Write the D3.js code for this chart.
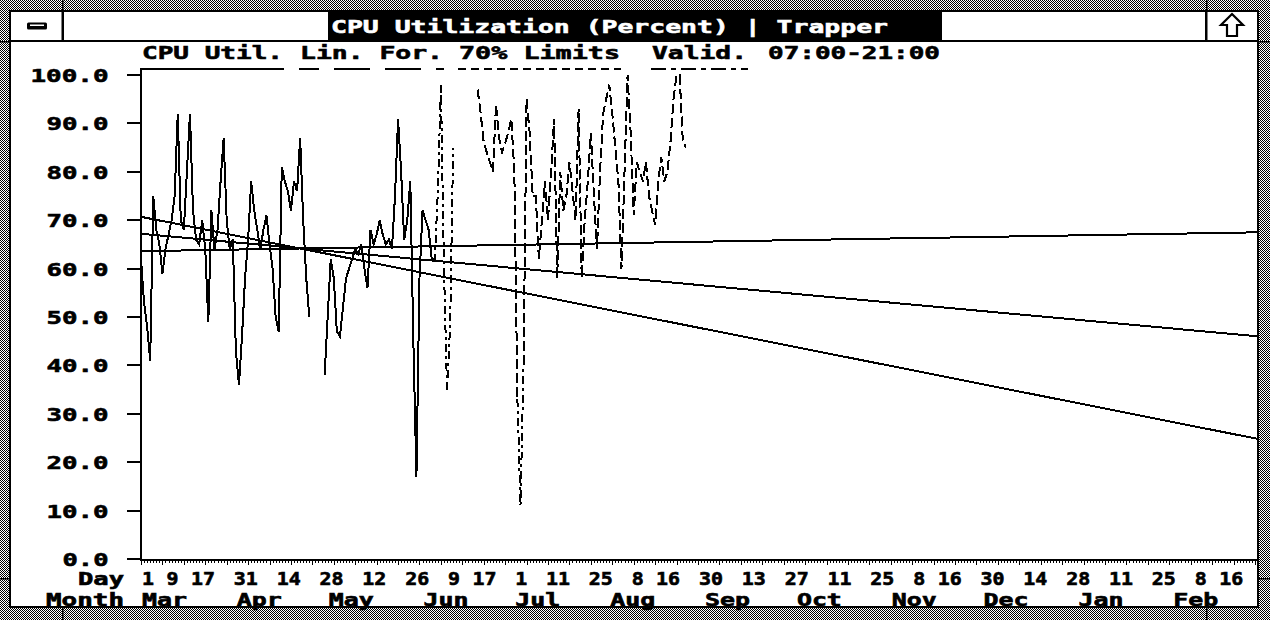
<!DOCTYPE html>
<html><head><meta charset="utf-8">
<script src="https://cdn.jsdelivr.net/npm/d3@7"></script>
<style>
html,body{margin:0;padding:0;background:#fff;overflow:hidden}
text{font-family:"DejaVu Sans Mono",monospace;font-weight:bold;stroke:#000;stroke-width:0.6px;}
text.w{stroke:#fff;fill:#fff}
</style></head>
<body><svg id="c" width="1270" height="620"></svg>
<script>
// ---------------- data ----------------
const titleText = "CPU Utilization (Percent) | Trapper";
const legendItems = ["CPU Util.", "Lin. For.", "70% Limits", "Valid."];
const legendExtra = "07:00-21:00";
const startDate = "1993-03-01";
const endDate = "1994-03-01";
// daily CPU utilisation (%) from Mar 1, null = no data
const utilValues = [
 62,53,48,41,75,68,65,59,64,67, 70,75,92,70,68,80,92,72,66,65,
 70,64,49,72,64,68,78,87,70,64, 66,43,36,46,58,66,78,72,68,64,
 68,71,65,60,50,47,81,78,76,72, 78,76,87,70,58,50,null,null,null,null,
 38,50,62,58,47,46,52,58,60,62, 64,63,65,60,56,68,65,67,70,67,
 65,66,64,75,91,80,66,70,78,45, 17,58,72,70,68,62,62,76,98,60,
 35,48,85,null,null,null,null,null,null,null, 97,92,86,84,82,80,94,87,84,86,
 88,91,80,33,11,40,95,88,75,75, 62,70,78,70,80,91,58,80,72,75,
 82,76,70,93,58,70,78,88,75,64, 80,92,95,98,92,85,78,60,80,100,
 88,71,82,80,78,82,75,72,69,78, 83,78,80,86,95,100,100,87,85
];
// data status, from day index onward: A = measured, V = validated, E = estimated
const statusRuns = [[0,"A"],[96,"V"],[110,"E"],[124,"V"],[125,"E"]];
// linear forecast and limits (start / end of axis)
const forecastDates = ["1993-03-01","1994-03-01"];
const trendValues = [63.6, 67.5];
const forecastValues = [67.2, 46.0];
const limitValues = [70.7, 24.8];
// axis tick labels
const yTicks = [0,10,20,30,40,50,60,70,80,90,100];
const dayLabelDates = ["1993-03-01","1993-03-09","1993-03-17","1993-03-31","1993-04-14","1993-04-28",
 "1993-05-12","1993-05-26","1993-06-09","1993-06-17","1993-07-01","1993-07-11","1993-07-25",
 "1993-08-08","1993-08-16","1993-08-30","1993-09-13","1993-09-27","1993-10-11","1993-10-25",
 "1993-11-08","1993-11-16","1993-11-30","1993-12-14","1993-12-28","1994-01-11","1994-01-25",
 "1994-02-08","1994-02-16"];
const monthLabels = ["Mar","Apr","May","Jun","Jul","Aug","Sep","Oct","Nov","Dec","Jan","Feb"];
const monthStarts = ["1993-03-01","1993-04-01","1993-05-01","1993-06-01","1993-07-01","1993-08-01",
 "1993-09-01","1993-10-01","1993-11-01","1993-12-01","1994-01-01","1994-02-01"];

// ---------------- drawing ----------------
const svg = d3.select("#c");
const parse = d3.timeParse("%Y-%m-%d");
const x = d3.scaleTime().domain([parse(startDate), parse(endDate)]).range([141, 1258]);
const y = d3.scaleLinear().domain([0,100]).range([559, 75]);

const defs = svg.append("defs");
const pat = defs.append("pattern").attr("id","chk").attr("width",2).attr("height",2).attr("patternUnits","userSpaceOnUse");
pat.append("rect").attr("width",2).attr("height",2).attr("fill","#fff");
pat.append("rect").attr("width",1).attr("height",1).attr("fill","#000");
pat.append("rect").attr("x",1).attr("y",1).attr("width",1).attr("height",1).attr("fill","#000");

// window frame
svg.append("rect").attr("width",1270).attr("height",620).attr("fill","url(#chk)");
svg.append("rect").attr("x",9).attr("y",10).attr("width",1250).attr("height",598).attr("fill","#000");
svg.append("rect").attr("x",11).attr("y",12).attr("width",1246).attr("height",594).attr("fill","#fff");
[[62,0,1.5,10],[1206,0,1.5,10],[62,608,1.5,12],[1206,608,1.5,12],[0,41,9,1.5],[1259,41,11,1.5],[0,578,9,1.5],[1259,578,11,1.5]]
 .forEach(r=>svg.append("rect").attr("x",r[0]).attr("y",r[1]).attr("width",r[2]).attr("height",r[3]).attr("fill","#000"));

// title bar
svg.append("rect").attr("x",11).attr("y",40).attr("width",1246).attr("height",2).attr("fill","#000");
svg.append("rect").attr("x",61.5).attr("y",12).attr("width",2.5).attr("height",28).attr("fill","#000");
svg.append("rect").attr("x",1205).attr("y",12).attr("width",2.5).attr("height",28).attr("fill","#000");
svg.append("rect").attr("x",328).attr("y",12).attr("width",614).attr("height",28).attr("fill","#000");
svg.append("rect").attr("x",27).attr("y",22.5).attr("width",20).attr("height",7).attr("rx",1.5).attr("fill","#000");
svg.append("rect").attr("x",30).attr("y",24.5).attr("width",14).attr("height",1.5).attr("fill","#fff");
svg.append("path").attr("d","M1232,14 L1243,25 L1237,25 L1237,36 L1227,36 L1227,25 L1221,25 Z")
  .attr("fill","#fff").attr("stroke","#000").attr("stroke-width",2.2).attr("stroke-linejoin","miter");
svg.append("text").attr("class","w").attr("x",331).attr("y",33).attr("font-size",18.5)
  .attr("textLength",557).attr("lengthAdjust","spacingAndGlyphs").text(titleText);

// legend
const legX = [[142,283],[300,443],[459,620],[652,747]];
const legDash = ["none","36 15","8 5","15 5 5 5"];
const legOff = [0,16,0,0];
legendItems.forEach((t,i)=>{
  svg.append("text").attr("x",legX[i][0]).attr("y",59).attr("font-size",18.5)
    .attr("textLength",legX[i][1]-legX[i][0]).attr("lengthAdjust","spacingAndGlyphs").text(t);
  svg.append("line").attr("x1",legX[i][0]-1).attr("x2",legX[i][1]+1).attr("y1",69).attr("y2",69)
    .attr("stroke","#000").attr("stroke-width",2).attr("stroke-dasharray",legDash[i])
    .attr("stroke-dashoffset",legOff[i]).attr("shape-rendering","crispEdges");
});
svg.append("text").attr("x",768).attr("y",59).attr("font-size",18.5)
  .attr("textLength",172).attr("lengthAdjust","spacingAndGlyphs").text(legendExtra);

// axes
const g = svg.append("g").attr("shape-rendering","crispEdges");
g.append("line").attr("x1",141).attr("x2",141).attr("y1",68).attr("y2",560).attr("stroke","#000").attr("stroke-width",2);
g.append("line").attr("x1",140).attr("x2",1258).attr("y1",559.5).attr("y2",559.5).attr("stroke","#000").attr("stroke-width",2);
yTicks.forEach(v=>{
  g.append("line").attr("x1",127).attr("x2",141).attr("y1",y(v)).attr("y2",y(v)).attr("stroke","#000").attr("stroke-width",2);
  const s = v.toFixed(1);
  svg.append("text").attr("x",108.5).attr("y",y(v)+7).attr("font-size",18.5).attr("text-anchor","end")
    .attr("textLength",s.length*16-2).attr("lengthAdjust","spacingAndGlyphs").text(s);
});
d3.timeDay.range(parse(startDate), parse(endDate)).forEach((d,i)=>{
  const len = (i%7===0) ? 5 : 3;
  g.append("line").attr("x1",Math.round(x(d))+0.5).attr("x2",Math.round(x(d))+0.5).attr("y1",560).attr("y2",560+len)
   .attr("stroke","#000").attr("stroke-width",1);
});
svg.append("text").attr("x",124).attr("y",585).attr("font-size",17).attr("text-anchor","end")
  .attr("textLength",46).attr("lengthAdjust","spacingAndGlyphs").text("Day");
svg.append("text").attr("x",124).attr("y",606).attr("font-size",17).attr("text-anchor","end")
  .attr("textLength",78).attr("lengthAdjust","spacingAndGlyphs").text("Month");
dayLabelDates.forEach(ds=>{
  const d = parse(ds); const s = String(d.getDate());
  svg.append("text").attr("x",x(d)+1).attr("y",585).attr("font-size",17)
    .attr("textLength",s.length*12).attr("lengthAdjust","spacingAndGlyphs").text(s);
});
monthLabels.forEach((m,i)=>{
  svg.append("text").attr("x",x(parse(monthStarts[i]))+1).attr("y",606).attr("font-size",17)
    .attr("textLength",45).attr("lengthAdjust","spacingAndGlyphs").text(m);
});

// forecast lines
const fl = d3.line().x(d=>x(d.d)).y(d=>y(d.v));
[trendValues, forecastValues, limitValues].forEach(arr=>{
  g.append("path").attr("d", fl(forecastDates.map((ds,i)=>({d:parse(ds), v:arr[i]}))))
    .attr("fill","none").attr("stroke","#000").attr("stroke-width",2);
});

// utilisation data
const t0 = parse(startDate);
const statusAt = i => { let s="A"; statusRuns.forEach(r=>{ if(i>=r[0]) s=r[1]; }); return s; };
const pts = utilValues.map((v,i)=>({d:d3.timeDay.offset(t0,i), v, s:statusAt(i)}));
const dashFor = {A:null, V:"8 4 3 4", E:"10 4"};
let runs = [];
for (let i=0;i<pts.length-1;i++){
  const a=pts[i], b=pts[i+1];
  if (a.v==null || b.v==null) continue;
  const st = (a.s==="V"||b.s==="V") ? "V" : ((a.s==="E"||b.s==="E") ? "E" : "A");
  const last = runs[runs.length-1];
  if (last && last.st===st && last.pts[last.pts.length-1]===a) last.pts.push(b);
  else runs.push({st, pts:[a,b]});
}
const dl = d3.line().x(d=>x(d.d)).y(d=>y(d.v));
runs.forEach(r=>{
  g.append("path").attr("d", dl(r.pts)).attr("fill","none").attr("stroke","#000")
   .attr("stroke-width",2).attr("stroke-dasharray", dashFor[r.st]);
});
</script></body></html>
